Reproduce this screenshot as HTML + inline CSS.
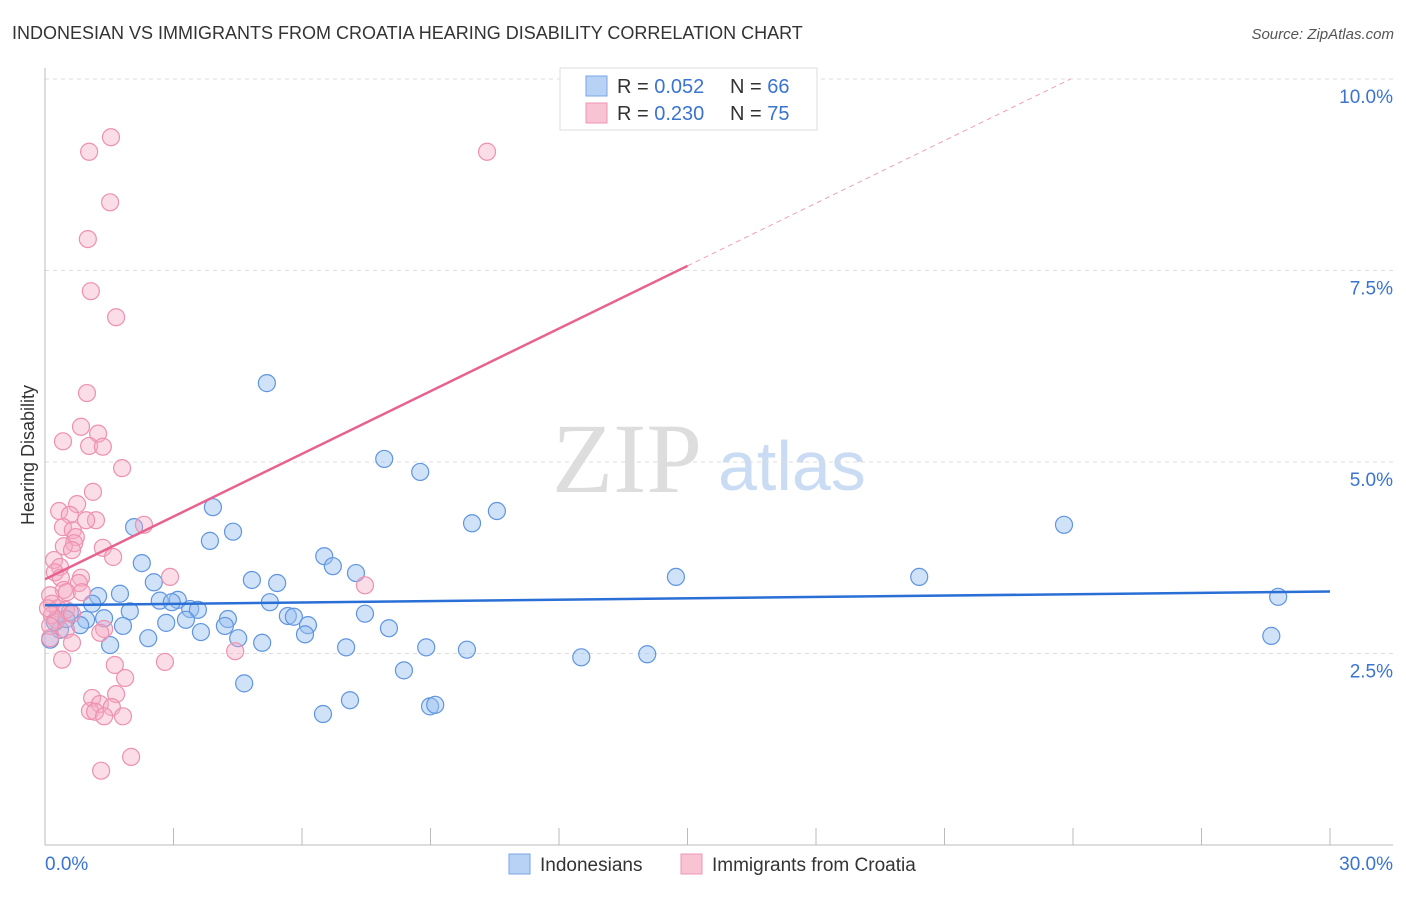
<!DOCTYPE html>
<html><head><meta charset="utf-8"><style>
body{margin:0;background:#fff;font-family:"Liberation Sans",sans-serif;}
svg text{font-family:"Liberation Sans",sans-serif;}
</style></head><body>
<svg id="chart" width="1406" height="892" viewBox="0 0 1406 892" xmlns="http://www.w3.org/2000/svg">
<rect width="1406" height="892" fill="#fff"/>
<text x="12" y="39" font-size="18" fill="#333">INDONESIAN VS IMMIGRANTS FROM CROATIA HEARING DISABILITY CORRELATION CHART</text>
<text x="1394" y="39" font-size="15" fill="#555" text-anchor="end" font-style="italic">Source: ZipAtlas.com</text>
<g>
<text x="552" y="492" font-size="100" fill="#ddd" style="font-family:'Liberation Serif',serif">ZIP</text>
<text x="718" y="490" font-size="70" fill="#c9dcf3">atlas</text>
</g>
<g id="grid"></g>
<g id="axes"></g>
<g id="pts"></g>
<g id="trends"></g>
<text transform="translate(34,455) rotate(-90)" font-size="18" fill="#333" text-anchor="middle">Hearing Disability</text>
<g>
<rect x="560" y="68" width="257" height="62" fill="#fff" stroke="#ddd"/>
<rect x="586" y="76" width="21" height="20" fill="#b7d2f4" stroke="#7aa6e4"/>
<rect x="586" y="103" width="21" height="20" fill="#f8c3d3" stroke="#ee95b2"/>
<text x="617" y="93" font-size="20" fill="#333">R = <tspan fill="#3a74d0">0.052</tspan></text>
<text x="730" y="93" font-size="20" fill="#333">N = <tspan fill="#3a74d0">66</tspan></text>
<text x="617" y="120" font-size="20" fill="#333">R = <tspan fill="#3a74d0">0.230</tspan></text>
<text x="730" y="120" font-size="20" fill="#333">N = <tspan fill="#3a74d0">75</tspan></text>
</g>
<g>
<rect x="509" y="854" width="21" height="20" fill="#b7d2f4" stroke="#7aa6e4"/>
<text x="540" y="871" font-size="19" fill="#333">Indonesians</text>
<rect x="681" y="854" width="21" height="20" fill="#f8c3d3" stroke="#ee95b2"/>
<text x="712" y="871" font-size="19" fill="#333">Immigrants from Croatia</text>
</g>
</svg>
<script>
const yTicks=[2.5,5.0,7.5,10.0];
const yTickLabels=["2.5%","5.0%","7.5%","10.0%"];
const xTickLabels=["0.0%","30.0%"];
const blueX=[5.18,7.92,8.76,3.92,2.08,4.39,3.85,9.97,10.55,23.79,6.52,6.72,2.26,7.26,4.83,5.42,2.54,14.73,20.41,28.79,1.24,1.75,2.68,3.10,2.96,3.39,3.57,1.98,5.25,5.67,5.81,7.47,1.10,1.38,0.96,3.29,4.27,4.20,6.14,1.82,2.83,3.64,4.51,5.07,6.07,8.03,2.41,1.52,7.03,8.90,9.85,12.52,14.06,28.63,8.38,4.65,7.12,6.49,8.99,9.11,0.82,0.35,0.23,0.58,0.12,0.5];
const blueY=[6.03,5.04,4.87,4.41,4.15,4.09,3.97,4.20,4.36,4.18,3.77,3.64,3.68,3.55,3.46,3.42,3.43,3.50,3.50,3.24,3.25,3.28,3.19,3.20,3.17,3.08,3.07,3.05,3.17,2.99,2.98,3.02,3.15,2.96,2.94,2.94,2.95,2.86,2.87,2.86,2.90,2.78,2.70,2.64,2.75,2.83,2.70,2.61,2.58,2.58,2.55,2.45,2.49,2.73,2.28,2.11,1.89,1.71,1.81,1.83,2.87,2.81,2.91,3.04,2.68,2.95];
const pinkX=[1.54,1.03,10.32,1.52,1.00,1.07,1.66,0.98,0.84,0.42,1.24,1.03,1.35,1.80,1.12,0.75,0.33,0.58,1.19,0.96,0.42,0.65,2.31,0.72,0.68,0.44,0.63,1.35,1.59,0.21,0.35,0.23,0.37,0.84,0.79,2.92,0.44,0.12,0.51,0.86,0.16,0.30,0.49,0.63,7.47,0.16,0.26,0.12,0.49,1.38,1.29,0.63,4.44,2.80,0.40,1.63,1.87,1.66,1.10,1.28,1.56,1.05,1.17,1.38,1.82,2.01,1.31,0.07,0.12];
const pinkY=[9.24,9.05,9.05,8.39,7.91,7.23,6.89,5.90,5.46,5.27,5.37,5.21,5.20,4.92,4.61,4.45,4.36,4.31,4.24,4.24,4.15,4.11,4.18,4.02,3.94,3.90,3.85,3.88,3.76,3.72,3.63,3.56,3.49,3.49,3.42,3.50,3.33,3.26,3.30,3.30,3.15,3.09,3.07,3.02,3.39,3.00,2.94,2.86,2.81,2.82,2.77,2.64,2.53,2.39,2.42,2.35,2.18,1.97,1.92,1.84,1.80,1.75,1.74,1.68,1.68,1.15,0.97,3.09,2.70];
const blueTrend=[3.13,3.31];
const pinkTrend=[3.47,0.2727];
const NS="http://www.w3.org/2000/svg";
const X=v=>45+v/30*1285, Y=v=>845-v/10*766;
function mk(tag,attrs,parent){const e=document.createElementNS(NS,tag);for(const k in attrs)e.setAttribute(k,attrs[k]);parent.appendChild(e);return e;}
const grid=document.getElementById('grid'),axes=document.getElementById('axes'),pts=document.getElementById('pts'),tr=document.getElementById('trends');
yTicks.forEach((t,i)=>{
 const l=mk('line',{x1:45,x2:1393,y1:Y(t),y2:Y(t),stroke:'#ddd','stroke-dasharray':'4,4'},grid);
 
 
 const tx=mk('text',{x:1393,y:Y(t)+24,'font-size':19,fill:'#3a74d0','text-anchor':'end'},grid);tx.textContent=yTickLabels[i];
 
 
});
mk('line',{x1:45,x2:45,y1:68,y2:845,stroke:'#bbb'},axes);
mk('line',{x1:45,x2:1393,y1:845,y2:845,stroke:'#bbb'},axes);
for(let i=0;i<=10;i++){mk('line',{x1:X(i*3),x2:X(i*3),y1:828,y2:845,stroke:'#bbb'},axes);}
const xl0=mk('text',{x:45,y:870,'font-size':19,fill:'#3a74d0'},axes);xl0.textContent=xTickLabels[0];


const xl1=mk('text',{x:1393,y:870,'font-size':19,fill:'#3a74d0','text-anchor':'end'},axes);xl1.textContent=xTickLabels[1];


blueX.forEach((x,i)=>{const c=mk('circle',{cx:X(x),cy:Y(blueY[i]),r:8.5,fill:'rgba(150,190,240,0.45)',stroke:'#5f95e0','stroke-width':1.2},pts);
 
 });
pinkX.forEach((x,i)=>{const c=mk('circle',{cx:X(x),cy:Y(pinkY[i]),r:8.5,fill:'rgba(244,170,195,0.4)',stroke:'#ee90ae','stroke-width':1.2},pts);
 
 });
const bl=mk('line',{x1:X(0),y1:Y(blueTrend[0]),x2:X(30),y2:Y(blueTrend[1]),stroke:'#2a6fd6','stroke-width':2.5},tr);


const pf=v=>pinkTrend[0]+pinkTrend[1]*v;
const pl=mk('line',{x1:X(0),y1:Y(pf(0)),x2:X(15),y2:Y(pf(15)),stroke:'#e8628f','stroke-width':2.5},tr);


const xe=(10-pinkTrend[0])/pinkTrend[1];
const pd=mk('line',{x1:X(15),y1:Y(pf(15)),x2:X(xe),y2:Y(10),stroke:'#eea0b8','stroke-width':1,'stroke-dasharray':'5,4'},tr);


</script>
</body></html>
